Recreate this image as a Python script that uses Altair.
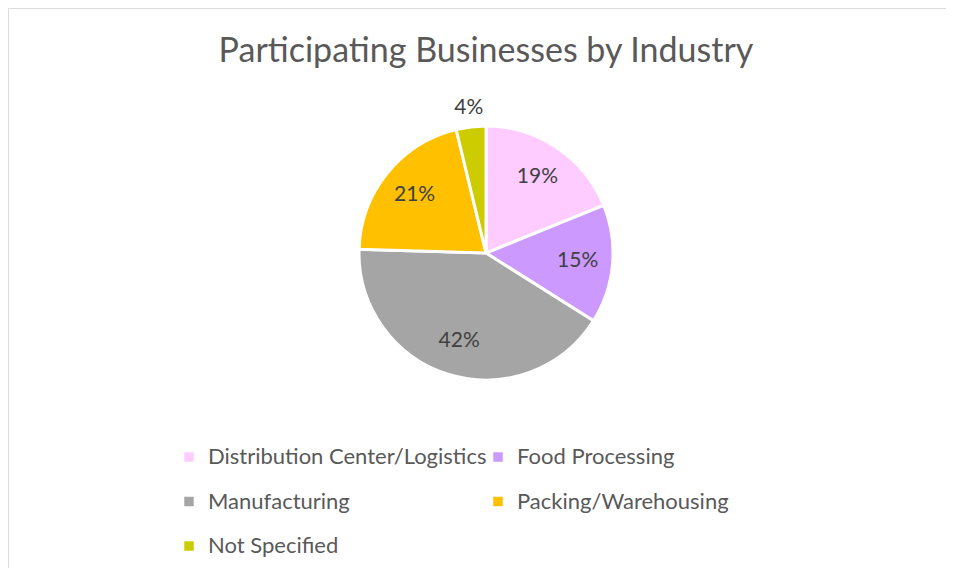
import altair as alt
import pandas as pd

categories = ["Distribution Center/Logistics", "Food Processing", "Manufacturing",
              "Packing/Warehousing", "Not Specified"]
counts = [10, 8, 22, 11, 2]
colors = ["#FFCCFF", "#CC99FF", "#A5A5A5", "#FFC000", "#CCCC00"]
title_text = "Participating Businesses by Industry"

# legend is laid out column-major, so reorder to read row-wise like the reference
legend_order = [0, 2, 4, 1, 3]
legend_domain = [categories[i] for i in legend_order]
legend_range = [colors[i] for i in legend_order]

df = pd.DataFrame({"category": categories, "count": counts, "idx": list(range(len(categories)))})

W, H = 938, 560
CX, CY = 478, 245
R = 127
FONT = "Lato"

base = alt.Chart(df).transform_joinaggregate(
    total="sum(count)"
).transform_calculate(
    pct="datum.count / datum.total",
    lab_in="datum.count / datum.total >= 0.05 ? format(datum.count / datum.total, '.0%') : ''",
    lab_out="datum.count / datum.total < 0.05 ? format(datum.count / datum.total, '.0%') : ''",
).encode(
    theta=alt.Theta("count:Q", stack=True),
    order=alt.Order("idx:Q"),
)

pie = base.mark_arc(outerRadius=R, stroke="white", strokeWidth=3).encode(
    x=alt.value(CX), y=alt.value(CY),
    color=alt.Color("category:N",
                    scale=alt.Scale(domain=legend_domain, range=legend_range),
                    legend=alt.Legend(title=None, orient="none", legendX=170, legendY=438,
                                      columns=2, symbolType="square", symbolSize=90,
                                      symbolStrokeWidth=0, labelFont=FONT, labelFontSize=22,
                                      labelColor="#595959", rowPadding=22.5, columnPadding=0,
                                      labelOffset=8, labelLimit=400)),
)

labels_in = base.mark_text(
    radius=92, font=FONT, fontSize=21, color="#404040"
).encode(x=alt.value(CX), y=alt.value(CY), text="lab_in:N")

labels_out = base.mark_text(
    radius=146, font=FONT, fontSize=21, color="#404040"
).encode(x=alt.value(CX), y=alt.value(CY), text="lab_out:N")

title = alt.Chart(pd.DataFrame({"t": [title_text]})).mark_text(
    font=FONT, fontSize=34, color="#595959", baseline="alphabetic"
).encode(x=alt.value(CX), y=alt.value(54), text="t:N")

chart = alt.layer(pie, labels_in, labels_out, title).properties(
    width=W, height=H, padding=0
).configure_view(stroke="#D9D9D9", strokeWidth=1).configure(background="white")

chart.save("out.html", embed_options={"renderer": "svg", "actions": False})
